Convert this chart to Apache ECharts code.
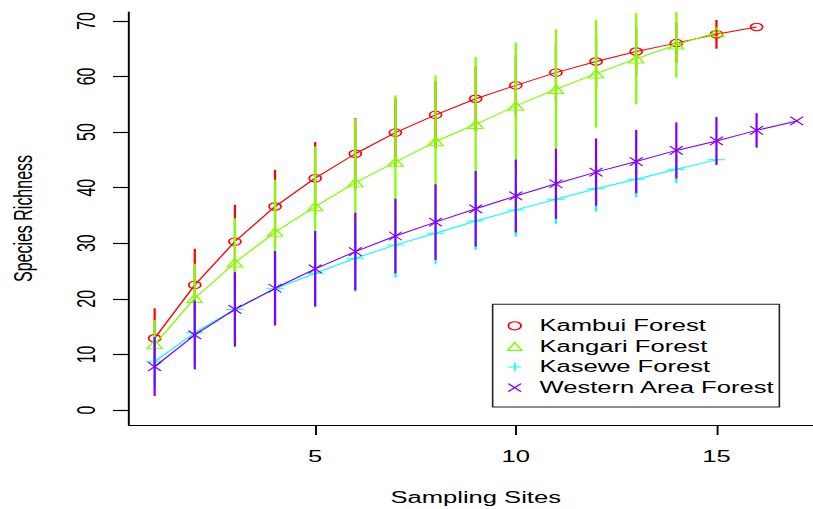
<!DOCTYPE html>
<html><head><meta charset="utf-8">
<script src="https://cdn.jsdelivr.net/npm/echarts@6/dist/echarts.min.js"></script>
<style>
html,body{margin:0;padding:0;background:#fff;overflow:hidden;width:813px;height:509px}
#chart{position:absolute;left:0;top:0;width:514px;height:509px;transform:scaleX(1.6);transform-origin:0 0}
</style></head><body><div id="chart"></div>
<script>
// Sampling sites (x values)
const sites = [1,2,3,4,5,6,7,8,9,10,11,12,13,14,15,16,17];
const seriesNames = ['Kambui Forest','Kangari Forest','Kasewe Forest','Western Area Forest'];
const colors = ['#FF0000','#80FF00','#00FFFF','#8000FF'];

// Mean species richness and error-bar half widths
const kambuiMean = [12.9,22.5,30.3,36.6,41.7,46.1,49.9,53.1,56.0,58.4,60.7,62.7,64.5,66.0,67.6,68.9];
const kambuiErr  = [5.4,6.5,6.6,6.6,6.5,6.4,6.2,6.0,5.8,5.5,5.2,4.8,4.3,3.6,2.6,0];
const kangariMean = [11.8,20.1,26.5,32.0,36.6,40.9,44.6,48.3,51.4,54.7,57.7,60.5,63.2,65.7,67.9];
const kangariErr  = [4.4,6.2,8.0,9.4,10.8,11.5,12.0,11.9,12.1,11.4,10.8,9.7,8.2,5.9,0];
const kaseweMean = [8.7,13.9,18.1,21.8,24.6,27.3,29.7,31.8,34.0,36.0,37.9,39.8,41.5,43.3,45.0];
const kaseweErr  = [4.5,5.5,5.9,6.0,6.0,6.0,5.8,5.5,5.2,4.8,4.4,4.1,3.2,2.5,0];
const westernMean = [7.8,13.5,18.1,21.9,25.4,28.5,31.3,33.8,36.2,38.5,40.7,42.8,44.7,46.7,48.4,50.3,52.0];
const westernErr  = [5.3,6.2,6.7,6.7,6.8,7.0,6.7,6.8,6.8,6.55,6.3,6.05,5.7,5.05,4.3,3.1,0];

const xTicks = [5,10,15];
const yTicks = [0,10,20,30,40,50,60,70];

const means = [kambuiMean,kangariMean,kaseweMean,westernMean];
const errs = [kambuiErr,kangariErr,kaseweErr,westernErr];
const symbols = ['circle','triangle','path://M5,0L5,10M0,5L10,5','path://M0,0L10,10M10,0L0,10'];
const symbolSizes = [7.5,[9.5,8.5],[11,11],[8,8.5]];
const legendIcons = ['circle','path://M5,0L10,9L0,9Z','path://M5,0L5,10M0,5L10,5','path://M0,0L10,10M10,0L0,10'];
const FONT = "'Liberation Sans', Arial, sans-serif";

const series = [];
means.forEach((m, i) => {
  const pts = m.map((v, k) => [sites[k], v]);
  series.push({
    type:'line', name: seriesNames[i], data: pts, z: 2 + i*2,
    symbol: symbols[i], symbolSize: symbolSizes[i], showSymbol:true, showAllSymbol:true,
    lineStyle:{color: colors[i], width:1.0},
    itemStyle:{color:'rgba(0,0,0,0)', borderColor: colors[i], borderWidth:1.0},
    emphasis:{disabled:true}, silent:true, animation:false, clip:false
  });
  const bars = m.map((v, k) => [sites[k], v - errs[i][k], v + errs[i][k]]);
  const col = colors[i];
  series.push({
    type:'custom', name: seriesNames[i] + ' interval', data: bars, z: 3 + i*2,
    encode:{x:0, y:[1,2]}, silent:true, animation:false,
    renderItem: function(params, api){
      const x = api.value(0), lo = api.value(1), hi = api.value(2);
      if (hi - lo <= 0) return null;
      const p1 = api.coord([x, lo]), p2 = api.coord([x, hi]);
      return {type:'line', shape:{x1:p1[0], y1:p1[1], x2:p2[0], y2:p2[1]},
              style:{stroke: col, lineWidth:1.4}};
    }
  });
});

const chart = echarts.init(document.getElementById('chart'), null, {renderer:'svg'});
chart.setOption({
  backgroundColor:'#fff',
  animation:false,
  grid:{left:80.6, right:0, top:12, bottom:84, containLabel:false, outerBoundsMode:'none'},
  xAxis:{
    type:'value', min:0.36, max:17.64,
    name:'Sampling Sites', nameLocation:'middle', nameGap:65,
    nameTextStyle:{fontSize:16, color:'#000', fontFamily:FONT},
    axisLine:{show:true, onZero:false, lineStyle:{color:'#000', width:1.2}},
    axisTick:{show:true, length:10, lineStyle:{color:'#000', width:1.2}, customValues:xTicks},
    axisLabel:{fontSize:16, color:'#000', fontFamily:FONT, margin:24, customValues:xTicks},
    splitLine:{show:false}
  },
  yAxis:{
    type:'value', min:-2.7, max:71.6,
    name:'Species Richness', nameLocation:'middle', nameGap:58, nameRotate:90,
    nameTextStyle:{fontSize:16, color:'#000', fontFamily:FONT},
    axisLine:{show:true, onZero:false, lineStyle:{color:'#000', width:1.2}},
    axisTick:{show:true, length:10, lineStyle:{color:'#000', width:1.2}, customValues:yTicks},
    axisLabel:{fontSize:16, color:'#000', fontFamily:FONT, margin:18.5, rotate:90, customValues:yTicks},
    splitLine:{show:false}
  },
  legend:{
    orient:'vertical', left:307.9, top:304.3,
    padding:[13.5,2.6,11.5,8.8],
    itemWidth:21, itemHeight:8, itemGap:4.6,
    borderColor:'#222', borderWidth:1, backgroundColor:'#fff',
    selectedMode:false,
    textStyle:{fontSize:16, color:'#000', fontFamily:FONT},
    data: seriesNames.map((n, i) => ({
      name:n, icon: legendIcons[i],
      itemStyle:{color:'rgba(0,0,0,0)', borderColor: colors[i], borderWidth:1.1}
    }))
  },
  series: series
});
</script></body></html>
